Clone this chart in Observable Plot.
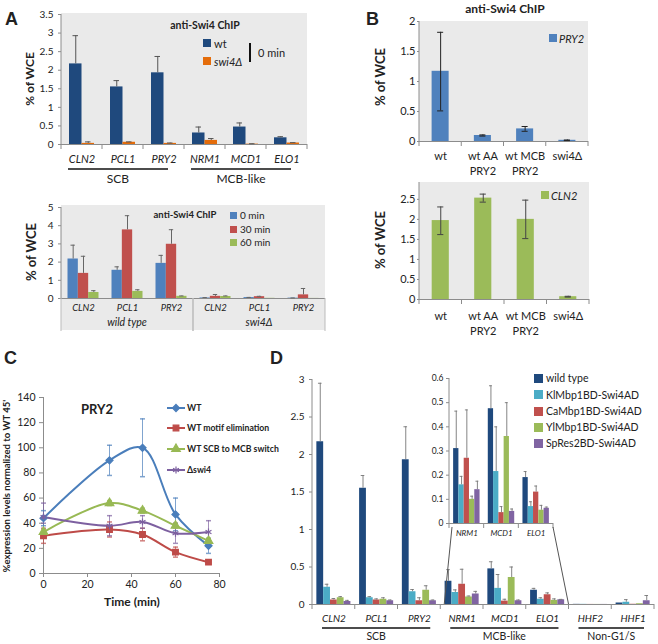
<!DOCTYPE html>
<html><head><meta charset="utf-8">
<script src="https://cdn.jsdelivr.net/npm/d3@7"></script>
<script src="https://cdn.jsdelivr.net/npm/@observablehq/plot@0.6"></script>
<style>
body{margin:0;background:#fff;}
#page{position:relative;width:658px;height:644px;overflow:hidden;background:#fff;}
.gray{position:absolute;background:#eaeaea;}
</style></head><body><div id="page"></div>
<script>
// ---------------- DATA ----------------
// Panel A (top): anti-Swi4 ChIP, 0 min
const aCats = ["CLN2","PCL1","PRY2","NRM1","MCD1","ELO1"];
const aSeries = ["wt","swi4Δ"];
const aWt    = [2.17,1.55,1.93,0.31,0.47,0.18];
const aWtHi  = [2.93,1.72,2.37,0.47,0.58,0.21];
const aSwi   = [0.03,0.06,0.03,0.11,0.01,0.04];
const aSwiHi = [0.07,0.07,0.04,0.16,0.02,0.05];
const aYTicks = [0,0.5,1,1.5,2,2.5,3,3.5];
const aGroupNames = ["SCB","MCB-like"];
const aGroupSpans = [["CLN2","PRY2"],["NRM1","ELO1"]];

// Panel A (bottom): time course
const tGenes   = ["CLN2","PCL1","PRY2","CLN2","PCL1","PRY2"];
const tStrains = ["wild type","wild type","wild type","swi4Δ","swi4Δ","swi4Δ"];
const tSeries  = ["0 min","30 min","60 min"];
const t0    = [2.17,1.55,1.93,0.03,0.05,0.02];
const t0Hi  = [2.93,1.74,2.37,0.05,0.06,0.03];
const t30   = [1.38,3.77,2.98,0.12,0.10,0.20];
const t30Hi = [2.32,4.55,3.78,0.22,0.12,0.55];
const t60   = [0.33,0.39,0.12,0.11,0.01,0.005];
const t60Hi = [0.43,0.48,0.14,0.14,0.01,0.005];
const tYTicks = [0,1,2,3,4,5];

// Panel B
const bCats = ["wt","wt AA\nPRY2","wt MCB\nPRY2","swi4Δ"];
const bPry2   = [1.17,0.10,0.21,0.02];
const bPry2Lo = [0.51,0.09,0.17,0.015];
const bPry2Hi = [1.82,0.11,0.25,0.025];
const bPryTicks = [0,0.5,1,1.5,2];
const bCln2   = [1.97,2.53,2.00,0.07];
const bCln2Lo = [1.62,2.43,1.52,0.06];
const bCln2Hi = [2.31,2.63,2.48,0.08];
const bClnTicks = [0,0.5,1,1.5,2,2.5];

// Panel C
const cTime = [0,30,45,60,75];
const cSeries = ["WT","WT motif elimination","WT SCB to MCB switch","Δswi4"];
const cWT     = [44,90,100,47,22];
const cWTLo   = [38,78,77,34,16];
const cWTHi   = [50,102,123,60,28];
const cElim   = [30,35,31,17,9];
const cElimLo = [24,29,26,13,8];
const cElimHi = [36,41,36,21,10];
const cSw     = [33,56,50,38,26];
const cSwLo   = [31,54,48,36,24];
const cSwHi   = [35,58,52,40,28];
const cDs     = [45,38,41,32,33];
const cDsLo   = [40,30,36,24,24];
const cDsHi   = [56,46,46,40,42];
const cXTicks = [0,20,40,60,80];
const cYTicks = [0,20,40,60,80,100,120,140];

// Panel D
const dCats = ["CLN2","PCL1","PRY2","NRM1","MCD1","ELO1","HHF2","HHF1"];
const dSeries = ["wild type","KlMbp1BD-Swi4AD","CaMbp1BD-Swi4AD","YlMbp1BD-Swi4AD","SpRes2BD-Swi4AD"];
const dWt   = [2.17,1.55,1.93,0.31,0.475,0.19,0.002,0.02];
const dWtHi = [2.95,1.72,2.37,0.465,0.57,0.215,0.002,0.02];
const dKl   = [0.23,0.09,0.17,0.16,0.215,0.07,0.002,0.03];
const dKlHi = [0.27,0.105,0.20,0.195,0.40,0.09,0.002,0.065];
const dCa   = [0.06,0.06,0.05,0.27,0.045,0.13,0.001,0.003];
const dCaHi = [0.08,0.075,0.09,0.47,0.07,0.155,0.001,0.003];
const dYl   = [0.09,0.07,0.19,0.10,0.36,0.055,0.001,0.01];
const dYlHi = [0.105,0.09,0.25,0.113,0.50,0.075,0.001,0.01];
const dSp   = [0.04,0.05,0.05,0.14,0.05,0.063,0.001,0.05];
const dSpHi = [0.055,0.06,0.06,0.175,0.06,0.068,0.001,0.12];
const dYTicks = [0,0.5,1,1.5,2,2.5,3];
const dInsetTicks = [0,0.1,0.2,0.3,0.4,0.5,0.6];
const dInsetCats = dCats.slice(3,6);
const dGroupNames = ["SCB","MCB-like","Non-G1/S"];
const dGroupSpans = [["CLN2","PRY2"],["NRM1","ELO1"],["HHF2","HHF1"]];

// ---------------- STYLE ----------------
const FONT = "Lato, 'Open Sans', sans-serif";
const TEXT = "#222";
const AXIS = "#8c8c8c";
const aColors = ["#1f497d","#e46c0a"];
const tColors = ["#4f81bd","#c0504d","#9bbb59"];
const cColors = ["#4a7ebb","#be4b48","#98b954","#7d60a0"];
const dColors = ["#1f497d","#4bacc6","#c0504d","#9bbb59","#8064a2"];
const numFmt = d => String(d);

const page = document.getElementById("page");
function place(el, left, top) {
  const d = document.createElement("div");
  d.style.cssText = `position:absolute;left:${left}px;top:${top}px;`;
  d.appendChild(el); page.appendChild(d); return d;
}
function grayBox(l, t, w, h) {
  const d = document.createElement("div"); d.className = "gray";
  d.style.left = l + "px"; d.style.top = t + "px"; d.style.width = w + "px"; d.style.height = h + "px";
  page.appendChild(d);
}
function txt(x, y, s, o = {}) {
  const d = document.createElement("div");
  const a = o.anchor || "start";
  const tx = a === "middle" ? "-50%" : a === "end" ? "-100%" : "0";
  d.textContent = s;
  d.style.cssText = `position:absolute;left:${x}px;top:${y}px;white-space:nowrap;line-height:1;` +
    `font-family:${o.family || FONT};font-size:${o.size || 11}px;font-weight:${o.weight || 400};` +
    `font-style:${o.style || "normal"};color:${o.color || TEXT};` +
    `transform:translate(${tx},-50%)${o.rotate ? ` rotate(${o.rotate}deg)` : ""};`;
  (o.parent || page).appendChild(d);
  return d;
}
function swatch(cx, cy, size, color) {
  const d = document.createElement("div");
  d.style.cssText = `position:absolute;left:${cx - size / 2}px;top:${cy - size / 2}px;width:${size}px;height:${size}px;background:${color};`;
  page.appendChild(d);
}

function grouped(o) {
  const rows = [];
  o.cats.forEach((c, i) => o.series.forEach((s, j) => rows.push({
    cat: c, s, v: o.values[j][i],
    lo: o.lows ? o.lows[j][i] : o.values[j][i],
    hi: o.highs[j][i]
  })));
  const errRows = rows.filter(d => d.hi - d.lo > 1e-6);
  const ew = o.errW || 1;
  const marks = [
    Plot.barY(rows, {fx: "cat", x: "s", y: "v", fill: "s"}),
    Plot.ruleY([0], {stroke: AXIS}),
    Plot.ruleX(errRows, {fx: "cat", x: "s", y1: "lo", y2: "hi", stroke: o.errColor, strokeWidth: ew}),
    Plot.tickY(errRows.filter(d => d.hi > d.v), {fx: "cat", x: "s", y: "hi", stroke: o.errColor, strokeWidth: ew, insetLeft: o.cap, insetRight: o.cap}),
    Plot.axisFx({anchor: "bottom", tickSize: 0, tickPadding: o.fxPad, fontSize: o.fxSize,
      fontStyle: o.fxStyle || "italic", tickFormat: o.fxFormat || (d => d), label: null,
      lineHeight: o.lineHeight || 1.2, fill: TEXT}),
    Plot.axisY({ticks: o.yTicks, tickFormat: numFmt, tickSize: o.yTickSize ?? 3, tickPadding: o.yPad ?? 4,
      fontSize: o.ySize, label: null, stroke: AXIS, fill: TEXT})
  ];
  if (o.lows) marks.push(Plot.tickY(errRows.filter(d => d.lo < d.v), {fx: "cat", x: "s", y: "lo", stroke: o.errColor, strokeWidth: ew, insetLeft: o.cap, insetRight: o.cap}));
  const plot = Plot.plot({
    width: o.width, height: o.height,
    marginLeft: o.ml, marginRight: o.mr, marginTop: o.mt, marginBottom: o.mb,
    style: {fontFamily: FONT, fontSize: "10px", background: "transparent", overflow: "visible", color: TEXT},
    fx: {domain: o.cats, paddingInner: 0, paddingOuter: 0, round: false},
    x: {domain: o.series, paddingInner: 0, paddingOuter: o.po, axis: null, round: false},
    y: {domain: o.yDomain},
    color: {domain: o.series, range: o.colors},
    marks
  });
  const svg = d3.select(plot);
  svg.selectAll('[aria-label="fx-axis tick label"] text').style("font-style", o.fxStyle || "italic");
  const fx = plot.scale("fx"), y = plot.scale("y");
  const y0 = y.apply(0), yTop = y.apply(o.yDomain[1]);
  svg.append("line").attr("x1", o.ml).attr("x2", o.ml).attr("y1", yTop).attr("y2", y0)
    .attr("stroke", AXIS);
  if (o.sep) {
    const xs = o.cats.map(c => fx.apply(c));
    xs.push(fx.apply(o.cats[o.cats.length - 1]) + fx.bandwidth);
    xs.forEach(x => svg.append("line").attr("x1", x).attr("x2", x).attr("y1", y0).attr("y2", y0 + o.sep).attr("stroke", AXIS));
  }
  place(plot, o.left, o.top);
  return {plot, svg, fx, y, y0, left: o.left, top: o.top};
}

function groupLabels(P, names, spans, o) {
  names.forEach((n, i) => {
    const x1 = P.fx.apply(spans[i][0]) + o.inL;
    const x2 = P.fx.apply(spans[i][1]) + P.fx.bandwidth - o.inR;
    P.svg.append("line").attr("x1", x1).attr("x2", x2).attr("y1", P.y0 + o.lineOff).attr("y2", P.y0 + o.lineOff)
      .attr("stroke", "#111").attr("stroke-width", 1.3);
    P.svg.append("text").attr("x", (x1 + x2) / 2).attr("y", P.y0 + o.textOff).attr("text-anchor", "middle")
      .attr("dominant-baseline", "middle").attr("font-size", o.size).attr("fill", TEXT).text(n);
  });
}

// ---------------- PANEL A (top) ----------------
grayBox(61, 13, 246, 131);
const PA = grouped({
  left: 0, top: 0, width: 330, height: 190, ml: 61, mr: 23, mt: 14, mb: 46,
  cats: aCats, series: aSeries, values: [aWt, aSwi], highs: [aWtHi, aSwiHi],
  colors: aColors, yDomain: [0, 3.5], yTicks: aYTicks, po: 0.64, cap: 3.5,
  errColor: "#555", fxPad: 9, fxSize: 11, ySize: 10, yPad: 5, sep: 5
});
groupLabels(PA, aGroupNames, aGroupSpans, {inL: 7, inR: 16, lineOff: 25, textOff: 36, size: 12});

// ---------------- PANEL A (bottom) ----------------
grayBox(61, 205, 264, 125);
const tKeys = tGenes.map((g, i) => tStrains[i] + "|" + g);
const PT = grouped({
  left: 0, top: 195, width: 330, height: 140, ml: 61, mr: 5, mt: 12, mb: 37,
  cats: tKeys, series: tSeries, values: [t0, t30, t60], highs: [t0Hi, t30Hi, t60Hi],
  colors: tColors, yDomain: [0, 5], yTicks: tYTicks, po: 0.63, cap: 3,
  errColor: "#666", fxPad: 4, fxSize: 9.5, ySize: 10, yPad: 5,
  fxFormat: d => d.split("|")[1]
});
{
  const strains = Array.from(new Set(tStrains));
  strains.forEach(s => {
    const ks = tKeys.filter(k => k.startsWith(s + "|"));
    const x1 = PT.fx.apply(ks[0]), x2 = PT.fx.apply(ks[ks.length - 1]) + PT.fx.bandwidth;
    PT.svg.append("text").attr("x", (x1 + x2) / 2).attr("y", PT.y0 + 25).attr("text-anchor", "middle")
      .attr("dominant-baseline", "middle").attr("font-size", 10.5).attr("font-style", "italic").attr("fill", TEXT).text(s);
    [x1, x2].forEach(x => PT.svg.append("line").attr("x1", x).attr("x2", x).attr("y1", PT.y0).attr("y2", PT.y0 + 33).attr("stroke", "#bbb"));
  });
}

// ---------------- PANEL B ----------------
grayBox(419, 21, 169, 120);
const PB1 = grouped({
  left: 330, top: 0, width: 328, height: 180, ml: 89, mr: 70, mt: 21, mb: 39,
  cats: bCats, series: ["PRY2"], values: [bPry2], lows: [bPry2Lo], highs: [bPry2Hi],
  colors: [tColors[0]], yDomain: [0, 2], yTicks: bPryTicks, po: 0.74, cap: 5.5,
  errColor: "#222", fxPad: 8, fxSize: 11, fxStyle: "normal", lineHeight: 1.36,
  ySize: 11, yPad: 2, yTickSize: 2, sep: 5
});
grayBox(419, 182, 170, 117);
const PB2 = grouped({
  left: 330, top: 175, width: 328, height: 165, ml: 89, mr: 69, mt: 7, mb: 41,
  cats: bCats, series: ["CLN2"], values: [bCln2], lows: [bCln2Lo], highs: [bCln2Hi],
  colors: [tColors[2]], yDomain: [0, 2.92], yTicks: bClnTicks, po: 0.74, cap: 5.5,
  errColor: "#444", fxPad: 10, fxSize: 11, fxStyle: "normal", lineHeight: 1.36,
  ySize: 11, yPad: 2, yTickSize: 2, sep: 5
});

// ---------------- PANEL C ----------------
{
  const vals = [cWT, cElim, cSw, cDs], los = [cWTLo, cElimLo, cSwLo, cDsLo], his = [cWTHi, cElimHi, cSwHi, cDsHi];
  const rows = [];
  cSeries.forEach((s, j) => cTime.forEach((t, i) => rows.push({s, t, v: vals[j][i], lo: los[j][i], hi: his[j][i]})));
  const capSym = {draw(ctx, size) { const w = Math.sqrt(size / Math.PI); ctx.moveTo(-w, 0); ctx.lineTo(w, 0); }};
  const plot = Plot.plot({
    width: 240, height: 225, marginLeft: 43, marginRight: 21, marginTop: 12, marginBottom: 37,
    style: {fontFamily: FONT, fontSize: "10.5px", background: "transparent", overflow: "visible", color: TEXT},
    x: {domain: [0, 80]}, y: {domain: [0, 140]},
    color: {domain: cSeries, range: cColors},
    symbol: {domain: cSeries, range: ["diamond2", "square", "triangle", "asterisk"]},
    marks: [
      Plot.ruleY([0], {stroke: AXIS}),
      Plot.ruleX([0], {stroke: AXIS}),
      Plot.axisX({ticks: cXTicks, tickFormat: numFmt, tickSize: 4, tickPadding: 3, label: null, stroke: AXIS, fill: TEXT, fontSize: 10.5}),
      Plot.axisY({ticks: cYTicks, tickFormat: numFmt, tickSize: 4, tickPadding: 4, label: null, stroke: AXIS, fill: TEXT, fontSize: 10.5}),
      Plot.ruleX(rows, {x: "t", y1: "lo", y2: "hi", stroke: "s", strokeOpacity: 0.7}),
      Plot.dot(rows, {x: "t", y: "hi", symbol: capSym, r: 2.5, fill: "none", stroke: "s", strokeOpacity: 0.7}),
      Plot.dot(rows, {x: "t", y: "lo", symbol: capSym, r: 2.5, fill: "none", stroke: "s", strokeOpacity: 0.7}),
      Plot.line(rows, {x: "t", y: "v", z: "s", stroke: "s", curve: "catmull-rom", strokeWidth: 2}),
      Plot.dot(rows, {x: "t", y: "v", symbol: "s", fill: "s", stroke: "s", r: 3.2, strokeWidth: 1.2})
    ]
  });
  place(plot, 0, 385);
}

// ---------------- PANEL D ----------------
const PD = grouped({
  left: 270, top: 370, width: 388, height: 274, ml: 42, mr: 4, mt: 9, mb: 40,
  cats: dCats, series: dSeries, values: [dWt, dKl, dCa, dYl, dSp], highs: [dWtHi, dKlHi, dCaHi, dYlHi, dSpHi],
  colors: dColors, yDomain: [0, 3], yTicks: dYTicks, po: 0.64, cap: 1.6,
  errColor: "#777", errW: 0.9, fxPad: 9, fxSize: 10, ySize: 10, yPad: 5, sep: 5
});
groupLabels(PD, dGroupNames, dGroupSpans, {inL: 10, inR: 10, lineOff: 24, textOff: 33, size: 10.5});
const PI = grouped({
  left: 420, top: 370, width: 140, height: 175, ml: 29, mr: 7, mt: 8, mb: 22,
  cats: dInsetCats, series: dSeries,
  values: [dWt, dKl, dCa, dYl, dSp].map(a => a.slice(3, 6)),
  highs: [dWtHi, dKlHi, dCaHi, dYlHi, dSpHi].map(a => a.slice(3, 6)),
  colors: dColors, yDomain: [0, 0.6], yTicks: dInsetTicks, po: 0.78, cap: 1.2,
  errColor: "#777", errW: 0.9, fxPad: 6, fxSize: 8, ySize: 8.5, yPad: 3, sep: 5
});

// ---------------- OVERLAY (legends, connectors) ----------------
const ov = d3.create("svg").attr("width", 658).attr("height", 644)
  .style("position", "absolute").style("left", 0).style("top", 0).style("pointer-events", "none");
page.appendChild(ov.node());
{
  const iL = PI.left + PI.fx.apply(dInsetCats[0]) + 3;
  const iR = PI.left + PI.fx.apply(dInsetCats[2]) + PI.fx.bandwidth;
  const iY = PI.top + PI.y0 + 4;
  const mL = PD.left + PD.fx.apply(dInsetCats[0]) + 4;
  const mR = PD.left + PD.fx.apply(dInsetCats[2]) + PD.fx.bandwidth;
  const mY = PD.top + PD.y0;
  ov.append("line").attr("x1", iL).attr("y1", iY).attr("x2", mL).attr("y2", mY).attr("stroke", "#555");
  ov.append("line").attr("x1", iR).attr("y1", iY).attr("x2", mR).attr("y2", mY).attr("stroke", "#555");
}
{
  const ys = [408, 428, 449, 470];
  const syms = [d3.symbolDiamond2 || d3.symbolDiamond, d3.symbolSquare, d3.symbolTriangle, d3.symbolAsterisk || d3.symbolCross];
  cSeries.forEach((s, i) => {
    ov.append("line").attr("x1", 167).attr("x2", 185).attr("y1", ys[i]).attr("y2", ys[i]).attr("stroke", cColors[i]).attr("stroke-width", 2);
    ov.append("path").attr("d", d3.symbol(syms[i], 32)()).attr("transform", `translate(176,${ys[i]})`)
      .attr("fill", cColors[i]).attr("stroke", cColors[i]).attr("stroke-width", 1.2);
    txt(187, ys[i], s, {size: 8.7, weight: 700});
  });
}

// ---------------- TEXT ----------------
const LETTER = "'Liberation Sans', Arial, sans-serif";
txt(5, 19, "A", {size: 18, weight: 700, family: LETTER});
txt(366, 19, "B", {size: 18, weight: 700, family: LETTER});
txt(4, 358, "C", {size: 18, weight: 700, family: LETTER});
txt(270, 358, "D", {size: 18, weight: 700, family: LETTER});

// A top
txt(30, 79, "% of WCE", {anchor: "middle", rotate: -90, size: 12, weight: 700});
txt(205, 25, "anti-Swi4 ChIP", {anchor: "middle", size: 10.5, weight: 700});
swatch(207, 43, 8, aColors[0]); txt(214, 43, aSeries[0], {size: 11});
swatch(207, 61, 8, aColors[1]); txt(214, 61, aSeries[1], {size: 11, style: "italic"});
{ const d = document.createElement("div"); d.style.cssText = "position:absolute;left:249px;top:43px;width:2px;height:19px;background:#111;"; page.appendChild(d); }
txt(258, 52, "0 min", {size: 11});

// A bottom
txt(31, 252, "% of WCE", {anchor: "middle", rotate: -90, size: 13, weight: 700});
txt(185, 215, "anti-Swi4 ChIP", {anchor: "middle", size: 9.5, weight: 700});
tSeries.forEach((s, i) => { const yy = [215, 229, 242][i]; swatch(233, yy, 7, tColors[i]); txt(240, yy, s, {size: 10}); });

// B
txt(505, 9, "anti-Swi4 ChIP", {anchor: "middle", size: 12, weight: 700});
txt(380, 77, "% of WCE", {anchor: "middle", rotate: -90, size: 13, weight: 700});
swatch(553, 38, 8, tColors[0]); txt(559, 38, "PRY2", {size: 11, style: "italic"});
txt(380, 240, "% of WCE", {anchor: "middle", rotate: -90, size: 13, weight: 700});
swatch(545, 195, 8, tColors[2]); txt(551, 195, "CLN2", {size: 11, style: "italic"});

// C
txt(97, 409, "PRY2", {anchor: "middle", size: 13, weight: 700});
txt(132, 602, "Time (min)", {anchor: "middle", size: 12, weight: 700});
txt(7, 486, "%expression levels normalized to WT 45'", {anchor: "middle", rotate: -90, size: 9.5, weight: 700});

// D legend
dSeries.forEach((s, i) => { const yy = [378, 394.5, 411, 427, 443][i]; swatch(538, yy, 9, dColors[i]); txt(546, yy, s, {size: 10.5}); });
</script></body></html>
